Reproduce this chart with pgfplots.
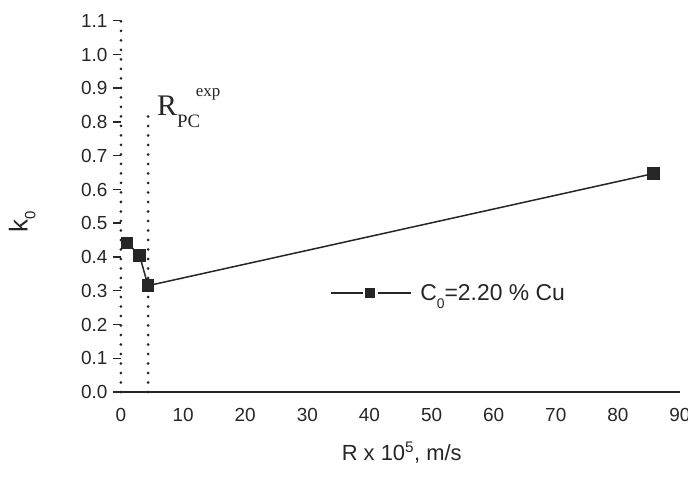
\documentclass[border=0pt]{standalone}
\usepackage{fontspec}
\setmainfont{Liberation Sans}
\newfontfamily\serifrm{Liberation Serif}
\usepackage{pgfplots}
\pgfplotsset{compat=1.18}
\definecolor{ink}{HTML}{262626}

\begin{document}
\begin{tikzpicture}
\begin{axis}[
    at={(0,0)}, anchor=origin,
    scale only axis, width=559bp, height=378bp,
    xmin=0, xmax=90, ymin=0, ymax=1.12,
    clip=false,
    axis lines=left,
    axis line style={-, ink},
    x axis line style={line width=1.4bp},
    y axis line style={line width=3bp, line cap=round, dash pattern=on 0pt off 9.5bp},
    xtick={0,10,20,30,40,50,60,70,80,90},
    ytick={0,0.1,0.2,0.3,0.4,0.5,0.6,0.7,0.8,0.9,1.0,1.1},
    tick align=outside,
    major tick length=8bp,
    xtick style={draw=none},
    ytick style={ink, line width=1.5bp},
    ticklabel style={text=ink, font=\fontsize{19}{19}\selectfont},
    xticklabel style={yshift=-5bp, /pgf/number format/.cd, fixed, precision=0, assume math mode=true},
    yticklabel style={xshift=-2bp, /pgf/number format/.cd, fixed, fixed zerofill, precision=1, assume math mode=true},
    legend style={at={(axis cs:33.6,0.294)}, anchor=west, draw=none, fill=none,
        inner sep=0pt, text=ink, font=\fontsize{23}{23}\selectfont,
        cells={anchor=west}},
    legend image code/.code={
        \draw[#1,mark=none] (0bp,0bp) -- (32bp,0bp);
        \draw[#1,mark=none] (47bp,0bp) -- (80bp,0bp);
        \draw[#1,mark size=4.5bp] plot[only marks] coordinates {(39.5bp,0bp)};
    },
]
% R_PC exp marker line
\addplot[ink, line width=3bp, line cap=round, dash pattern=on 0pt off 9.5bp, forget plot]
    coordinates {(4.35,0) (4.35,0.83)};

\addplot[ink, line width=1.5bp, mark=square*, mark size=5.5bp, mark options={solid}]
    coordinates {(1.0,0.442) (3.0,0.404) (4.35,0.315) (85.7,0.647)};
\addlegendentry{\hspace{0.3em}C\raisebox{-0.35em}{\fontsize{14}{14}\selectfont 0}=2.20 \% Cu}

\node[anchor=base west, inner sep=0pt, text=ink, font=\serifrm\fontsize{30}{30}\selectfont]
    at (axis cs:5.8,0.82)
    {R\raisebox{-0.4em}{\fontsize{19}{19}\selectfont PC}\hspace{-0.15em}\raisebox{0.62em}{\fontsize{17}{17}\selectfont exp}};

\node[anchor=base, inner sep=0pt, text=ink, font=\fontsize{22}{22}\selectfont]
    at (axis cs:45.2,-0.2015) {R x 10\textsuperscript{5}, m/s};

\node[rotate=90, inner sep=0pt, text=ink, font=\fontsize{26}{26}\selectfont]
    at (axis cs:-15.9,0.503) {k\raisebox{-0.3em}{\fontsize{15}{15}\selectfont 0}};
\end{axis}
\pgfresetboundingbox
\useasboundingbox (-121bp,-87bp) rectangle (567bp,392bp);
\end{tikzpicture}
\end{document}
